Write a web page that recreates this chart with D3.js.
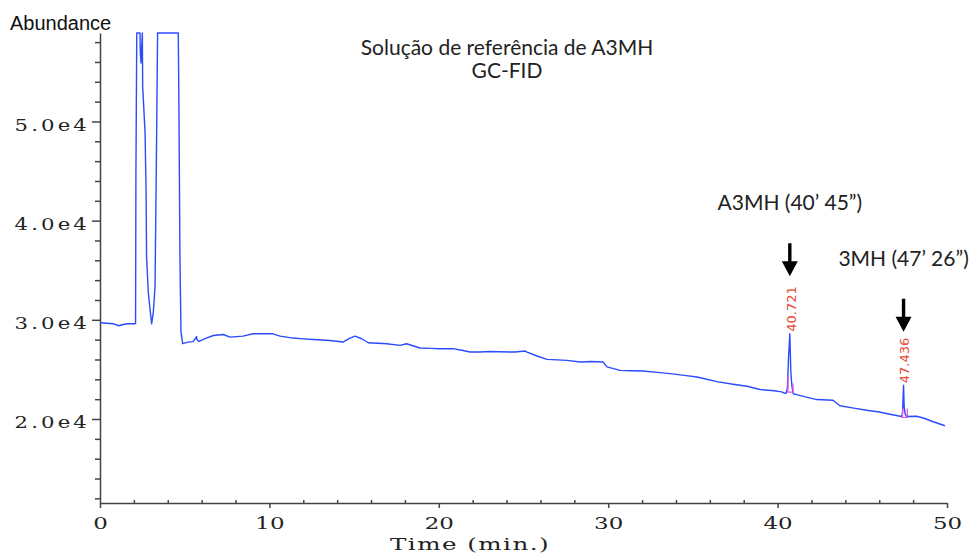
<!DOCTYPE html>
<html>
<head>
<meta charset="utf-8">
<script src="https://cdn.jsdelivr.net/npm/d3@7"></script>
<style>
  body { margin: 0; background: #fff; }
  .axis path, .axis line { stroke: #444; stroke-width: 1.5; }
  .axis text { font-family: "DejaVu Serif"; font-size: 17px; fill: #222; }
</style>
</head>
<body>
<div id="chartArea"></div>
<script>
// chromatogram trace (time in min, abundance)
const traceTime = [
  0.00, 0.40, 0.80, 1.10, 1.30, 1.60, 2.05, 2.10, 2.12, 2.17, 2.36, 2.38, 2.42, 2.46, 2.50,
  2.52, 2.66, 2.72, 2.75, 2.85, 2.95, 3.05, 3.15, 3.25, 3.33, 3.40, 4.62, 4.66, 4.72, 4.78,
  4.88, 5.20, 5.50, 5.70, 5.72, 5.85, 6.20, 6.69, 7.28, 7.67, 8.44, 9.03, 10.21, 10.63, 11.39,
  12.00, 12.57, 13.10, 13.58, 14.34, 14.76, 15.05, 15.45, 15.84, 16.40, 16.92, 17.71, 18.10,
  18.89, 19.50, 20.07, 20.84, 21.43, 21.84, 22.43, 23.00, 23.50, 24.50, 25.10, 25.21, 25.80,
  26.39, 27.00, 27.57, 28.34, 29.00, 29.69, 29.93, 30.70, 31.40, 32.05, 32.90, 33.65, 34.50,
  35.24, 36.49, 37.37, 38.20, 38.96, 39.80, 40.24, 40.40, 40.50, 40.58, 40.64, 40.721, 40.78,
  40.84, 40.92, 41.13, 41.70, 42.31, 43.27, 43.68, 44.50, 45.26, 46.00, 46.64, 47.23, 47.32,
  47.38, 47.41, 47.436, 47.47, 47.53, 47.62, 48.21, 48.60, 49.19, 49.88
];
const traceAbundance = [
  29700, 29650, 29600, 29400, 29500, 29600, 29600, 29650, 44400, 62000, 62000, 57000, 55900, 57500, 62000,
  53500, 48900, 42900, 36300, 32800, 31100, 29600, 30800, 33400, 46500, 62000, 62000, 51400, 36100, 28800,
  27600, 27750, 27800, 28300, 28000, 27820, 28100, 28420, 28520, 28260, 28360, 28590, 28590, 28360, 28160,
  28080, 28020, 27960, 27920, 27760, 28160, 28360, 28090, 27690, 27640, 27590, 27420, 27590,
  27160, 27120, 27090, 27090, 26910, 26750, 26750, 26800, 26780, 26750, 26850, 26750, 26350,
  26010, 25960, 25910, 25750, 25790, 25750, 25250, 24900, 24870, 24840, 24700, 24570, 24400,
  24240, 23740, 23500, 23300, 22970, 22850, 22730, 22600, 22600, 23100, 26000, 28600, 24800,
  23400, 22550, 22460, 22200, 21960, 21890, 21330, 21100, 20880, 20700, 20480, 20280, 20250,
  20600, 22300, 23400, 21300, 20500, 20250, 20280, 20100, 19720, 19320
];

// integrated peaks
const peakTimes = [40.721, 47.436];
const peakApex = [28600, 23400];
const peakStart = [40.61, 47.37];
const peakEnd = [40.91, 47.66];
const peakBase = [22700, 20150];
const markTopLeft = [24370, 21060];
const markTopRight = [23570, 21060];
const compoundNames = ["A3MH (40’ 45”)", "3MH (47’ 26”)"];
const arrowTips = [34400, 28800];

const xTickValues = [0, 10, 20, 30, 40, 50];
const yTickValues = [20000, 30000, 40000, 50000];
const titleLines = ["Solução de referência de A3MH", "GC-FID"];

(function() {
  const width = 975;
  const height = 554;
  const margin = { top: 33, right: 28, bottom: 51, left: 100 };
  const w = width - margin.left - margin.right;
  const h = height - margin.top - margin.bottom;

  const root = d3
    .select("#chartArea")
    .append("svg")
    .attr("width", width)
    .attr("height", height)
    .style("background", "#fff");

  const svg = root
    .append("g")
    .attr("transform", "translate(" + margin.left + "," + margin.top + ")");

  const xScale = d3.scaleLinear().domain([0, 50]).range([0, w]);
  const yScale = d3
    .scaleLinear()
    .domain([11530, 58920])
    .range([h, 0])
    .clamp(true);

  // minor ticks
  svg
    .append("g")
    .attr("class", "x axis minor")
    .attr("transform", "translate(0," + h + ")")
    .call(
      d3
        .axisBottom(xScale)
        .tickValues(d3.range(0, 51, 2).filter(d => d % 10 !== 0))
        .tickSize(-3)
        .tickFormat("")
    )
    .call(g => g.select(".domain").remove());

  svg
    .append("g")
    .attr("class", "y axis minor")
    .call(
      d3
        .axisLeft(yScale)
        .tickValues(d3.range(12000, 58001, 2000).filter(d => d % 10000 !== 0))
        .tickSize(5)
        .tickFormat("")
    )
    .call(g => g.select(".domain").remove());

  // major axes
  const xAxis = d3
    .axisBottom(xScale)
    .tickValues(xTickValues)
    .tickSizeInner(5)
    .tickSizeOuter(0)
    .tickFormat(d3.format("d"));

  svg
    .append("g")
    .attr("class", "x axis")
    .attr("transform", "translate(0," + h + ")")
    .call(xAxis)
    .selectAll("text")
    .attr("y", 26)
    .attr("dy", 0)
    .attr("transform", "scale(1.35,1)");

  const yAxis = d3
    .axisLeft(yScale)
    .tickValues(yTickValues)
    .tickSizeInner(8)
    .tickSizeOuter(0)
    .tickFormat(d => d3.format(".1e")(d).replace("e+", "e"));

  svg
    .append("g")
    .attr("class", "y axis")
    .call(yAxis)
    .selectAll("text")
    .attr("x", -8)
    .attr("dy", 9)
    .style("letter-spacing", "2.5px")
    .attr("transform", "scale(1.25,1)");

  // trace
  const trace = traceTime.map((t, i) => ({ t: t, v: traceAbundance[i] }));
  const line = d3
    .line()
    .x(d => xScale(d.t))
    .y(d => yScale(d.v));

  svg
    .append("path")
    .datum(trace)
    .attr("fill", "none")
    .attr("stroke", "#2b4bff")
    .attr("stroke-width", 1.4)
    .attr("stroke-linejoin", "round")
    .attr("d", line);

  // integration marks
  svg
    .selectAll(".mark")
    .data(peakTimes)
    .enter()
    .append("path")
    .attr("class", "mark")
    .attr("fill", "none")
    .attr("stroke", "#e34fe3")
    .attr("stroke-width", 1.2)
    .attr("d", (d, i) => {
      return (
        "M" + xScale(peakStart[i]) + "," + yScale(markTopLeft[i]) +
        "V" + yScale(peakBase[i]) +
        "H" + xScale(peakEnd[i]) +
        "V" + yScale(markTopRight[i])
      );
    });

  // retention time labels
  svg
    .selectAll(".rt")
    .data(peakTimes)
    .enter()
    .append("text")
    .attr("class", "rt")
    .attr("transform", (d, i) =>
      "translate(" + xScale(d) + "," + (yScale(peakApex[i]) - 2) + ") rotate(-90)"
    )
    .attr("dy", "0.45em")
    .attr("font-family", "DejaVu Sans")
    .attr("font-size", 13)
    .attr("fill", "#e8493a")
    .text(d => d3.format(".3f")(d));

  // arrows and compound names
  const arrows = svg
    .selectAll(".arrow")
    .data(peakTimes)
    .enter()
    .append("g")
    .attr("class", "arrow")
    .attr("transform", (d, i) =>
      "translate(" + xScale(d) + "," + yScale(arrowTips[i]) + ")"
    );

  arrows
    .append("path")
    .attr("fill", "#000")
    .attr("d", "M0,0 L-8,-15 L-1.7,-15 L-1.7,-33 L1.7,-33 L1.7,-15 L8,-15 Z");

  arrows
    .append("text")
    .attr("y", -66)
    .attr("text-anchor", "middle")
    .attr("font-family", "Lato")
    .attr("font-size", 21)
    .attr("fill", "#222")
    .text((d, i) => compoundNames[i]);

  // titles and labels
  root
    .selectAll(".title")
    .data(titleLines)
    .enter()
    .append("text")
    .attr("class", "title")
    .attr("x", 507)
    .attr("y", (d, i) => 55 + i * 23)
    .attr("text-anchor", "middle")
    .attr("font-family", "Lato")
    .attr("font-size", 21)
    .attr("fill", "#222")
    .text(d => d);

  root
    .append("text")
    .attr("x", 10)
    .attr("y", 30)
    .attr("font-family", "Liberation Sans")
    .attr("font-size", 20)
    .attr("fill", "#111")
    .text("Abundance");

  root
    .append("text")
    .attr("transform", "translate(470,550) scale(1.45,1)")
    .attr("text-anchor", "middle")
    .attr("font-family", "DejaVu Serif")
    .attr("font-size", 17)
    .style("letter-spacing", "1px")
    .attr("fill", "#222")
    .text("Time (min.)");
})();
</script>
</body>
</html>
